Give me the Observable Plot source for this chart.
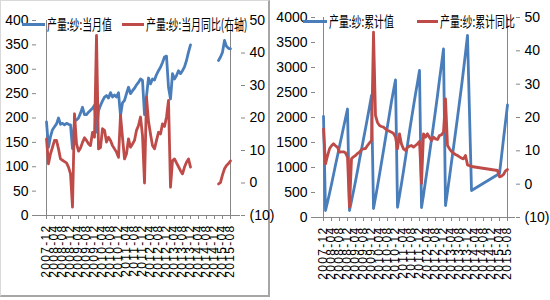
<!DOCTYPE html>
<html><head><meta charset="utf-8">
<script src="https://cdn.jsdelivr.net/npm/d3@7"></script>
<script src="https://cdn.jsdelivr.net/npm/@observablehq/plot@0.6"></script>
<style>
body{margin:0;background:#fff;}
#wrap{position:relative;width:550px;height:300px;overflow:hidden;}
.panel{position:absolute;top:0;}
.border{position:absolute;left:0;top:0;width:270px;height:297px;border-left:1px solid #d9d9d9;border-top:1px solid #d9d9d9;border-right:2px solid #a6a6a6;border-bottom:2px solid #a6a6a6;box-sizing:border-box;}
.sw{position:absolute;height:3px;}
.lt{position:absolute;height:20px;line-height:20px;white-space:nowrap;font-family:"Noto Sans CJK SC",sans-serif;font-size:15px;color:#000;transform:scaleX(0.66);transform-origin:0 50%;}
</style>
</head><body>
<div id="wrap">
  <div class="border"></div>
  <div id="left" class="panel" style="left:0"></div>
  <div id="right" class="panel" style="left:275px"></div>
  <div class="sw" style="left:22px;top:23px;width:23px;background:#4a7ebb"></div>
  <div class="lt" style="left:47px;top:14px">产量:纱:当月值</div>
  <div class="sw" style="left:122px;top:23px;width:22px;background:#be4b48"></div>
  <div class="lt" style="left:146px;top:14px">产量:纱:当月同比(右轴)</div>
  <div class="sw" style="left:303px;top:20px;width:24px;background:#4a7ebb"></div>
  <div class="lt" style="left:329px;top:11px">产量:纱:累计值</div>
  <div class="sw" style="left:417px;top:20px;width:21px;background:#be4b48"></div>
  <div class="lt" style="left:440px;top:11px">产量:纱:累计同比</div>
</div>
<script>
const months = ["2007-12",
"2008-01","2008-02","2008-03","2008-04","2008-05","2008-06","2008-07","2008-08","2008-09","2008-10","2008-11","2008-12",
"2009-01","2009-02","2009-03","2009-04","2009-05","2009-06","2009-07","2009-08","2009-09","2009-10","2009-11","2009-12",
"2010-01","2010-02","2010-03","2010-04","2010-05","2010-06","2010-07","2010-08","2010-09","2010-10","2010-11","2010-12",
"2011-01","2011-02","2011-03","2011-04","2011-05","2011-06","2011-07","2011-08","2011-09","2011-10","2011-11","2011-12",
"2012-01","2012-02","2012-03","2012-04","2012-05","2012-06","2012-07","2012-08","2012-09","2012-10","2012-11","2012-12",
"2013-01","2013-02","2013-03","2013-04","2013-05","2013-06","2013-07","2013-08","2013-09","2013-10","2013-11","2013-12",
"2014-01","2014-02","2014-03","2014-04","2014-05","2014-06","2014-07","2014-08","2014-09","2014-10","2014-11","2014-12",
"2015-01","2015-02","2015-03","2015-04","2015-05","2015-06","2015-07","2015-08"];

const tickLabels = ["2007-12","2008-04","2008-08","2008-12","2009-04","2009-08","2009-12","2010-04","2010-08","2010-12",
"2011-04","2011-08","2011-12","2012-04","2012-08","2012-12","2013-04","2013-08","2013-12","2014-04","2014-08","2014-12","2015-04","2015-08"];

// 产量:纱:当月值 (left axis)
const monthlyValue = [192,
140,162,176,182,188,200,187,189,186,189,187,186,
137,193,196,200,210,222,207,207,212,216,220,226,
171,215,226,235,243,246,241,252,243,247,243,252,
205,231,236,250,263,250,256,261,268,273,280,277,
207,245,282,270,280,278,289,297,304,314,325,327,
263,239,291,280,287,297,291,297,305,318,335,350,
null,null,null,null,null,null,null,null,null,null,null,null,
null,318,325,335,359,347,343,342];

// 产量:纱:当月同比 (right axis, %)
const monthlyYoY = [13.6,
5.9,9,11,13.1,13.1,10.5,7.4,7,6.6,6.2,4.9,2.8,
-7.4,21.3,12.1,9.8,10.8,12.5,13.9,13.1,12.1,11.5,15.6,14.1,
45.4,10.5,10.9,16.7,16.2,12.6,14.1,13.1,11.5,10.5,9.5,7.9,
20.8,14,7.4,9,13.6,11,12,13.1,16.2,17.7,20.3,14.6,
0,26.4,19,15.1,11.5,10.5,13.1,15.6,15.1,18.2,17.4,20.3,
25.4,-1.3,6.9,7.4,6.2,5,3.8,2.8,4.9,6.4,7.4,4.9,
null,null,null,null,null,null,null,null,null,null,null,null,
null,-0.3,0.2,2.5,4.4,5.4,6,6.8];

// 产量:纱:累计值 (left axis)
const cumValue = [2020,
140,305,480,665,855,1050,1235,1425,1610,1800,1985,2170,
140,330,525,725,935,1155,1360,1570,1780,1995,2215,2440,
180,400,625,860,1100,1340,1585,1830,2075,2320,2540,2750,
205,440,680,930,1190,1455,1725,1975,2225,2470,2700,2940,
200,450,730,1000,1280,1560,1850,2140,2440,2760,3060,3370,
240,520,810,1110,1400,1700,2000,2310,2620,2950,3290,3640,
null,540,null,null,null,null,null,null,null,null,null,null,
null,null,null,880,1220,1570,1910,2250,2600];

// 产量:纱:累计同比 (right axis, %)
const cumYoY = [16.6,
6.1,8.5,10.6,11.5,12.1,11.5,11.1,9.6,9.7,9.7,9.4,8.1,
-6.9,7.6,8.2,8.6,9.2,9.6,10.4,10.6,10.7,11.6,12.4,13.1,
45.6,20.6,18.5,17.6,17.3,17.1,16.6,16.1,15.9,15.6,15.2,14.1,
10.6,15.1,12,10.6,10.1,11.1,11.4,11.6,11.1,11.6,12.1,12.8,
0.2,15.1,14.1,15.1,14,13.1,14.1,13.6,13.4,14.6,14.8,15.6,
25.6,11.6,10.6,9.8,9.3,8.9,8.6,8.2,7.8,7.6,8.6,5.8,
null,5.3,null,null,null,null,null,null,null,null,null,null,
null,null,4.1,2.2,2.4,2.9,4.0,4.4,4.6];

const leftTicksA = [0,50,100,150,200,250,300,350,400];
const leftTicksB = [0,500,1000,1500,2000,2500,3000,3500,4000];
const rightTicks = [-10,0,10,20,30,40,50];

const BLUE = "#4a7ebb", RED = "#be4b48", AXIS = "#868686";

function build(opts) {
  const {values, yoy, yMax, leftTicks, ml, mr, mt, mb, connect} = opts;
  const toL = r => (r + 10) / 60 * yMax;
  let a = months.map((m, i) => ({m, v: values[i]}));
  let b = months.map((m, i) => ({m, v: yoy[i] == null ? null : toL(yoy[i])}));
  if (connect) { a = a.filter(d => d.v != null); b = b.filter(d => d.v != null); }
  const fmtR = d => { const r = Math.round(d / yMax * 60 - 10); return r < 0 ? `(${-r})` : String(r); };
  const svg = Plot.plot({
    width: 275, height: 300,
    marginLeft: ml, marginRight: mr, marginTop: mt, marginBottom: mb,
    style: {fontFamily: '"Liberation Sans Narrow","Liberation Sans",sans-serif', fontSize: "14px", color: "#000", background: "transparent", overflow: "visible"},
    x: {type: "point", domain: months, padding: 0},
    y: {domain: [0, yMax]},
    marks: [
      Plot.axisY({ticks: leftTicks, tickFormat: d => String(d), tickSize: 4, tickPadding: 4, stroke: AXIS, label: null}),
      Plot.axisY({anchor: "right", ticks: rightTicks.map(toL), tickFormat: fmtR, tickSize: 4, tickPadding: 5, stroke: AXIS, label: null}),
      Plot.axisX({ticks: tickLabels, tickRotate: -90, tickSize: 4, tickPadding: 5, stroke: AXIS, label: null, fontSize: 12}),
      Plot.ruleY([0], {stroke: AXIS}),
      Plot.ruleX([months[0]], {stroke: AXIS}),
      Plot.ruleX([months[months.length - 1]], {stroke: AXIS}),
      Plot.line(a, {x: "m", y: "v", stroke: BLUE, strokeWidth: 2.8}),
      Plot.line(b, {x: "m", y: "v", stroke: RED, strokeWidth: 2.8})
    ]
  });
  d3.select(svg).selectAll('g[aria-label="x-axis tick label"] text')
    .style("font-family", '"Liberation Sans",sans-serif').style("letter-spacing", "1.3px");
  return svg;
}

document.getElementById("left").append(build({
  values: monthlyValue, yoy: monthlyYoY, yMax: 400, leftTicks: leftTicksA,
  ml: 36, mr: 35, mt: 20, mb: 85, connect: false
}));
document.getElementById("right").append(build({
  values: cumValue, yoy: cumYoY, yMax: 4000, leftTicks: leftTicksB,
  ml: 40, mr: 35, mt: 17, mb: 83, connect: true
}));
</script>
</body></html>
